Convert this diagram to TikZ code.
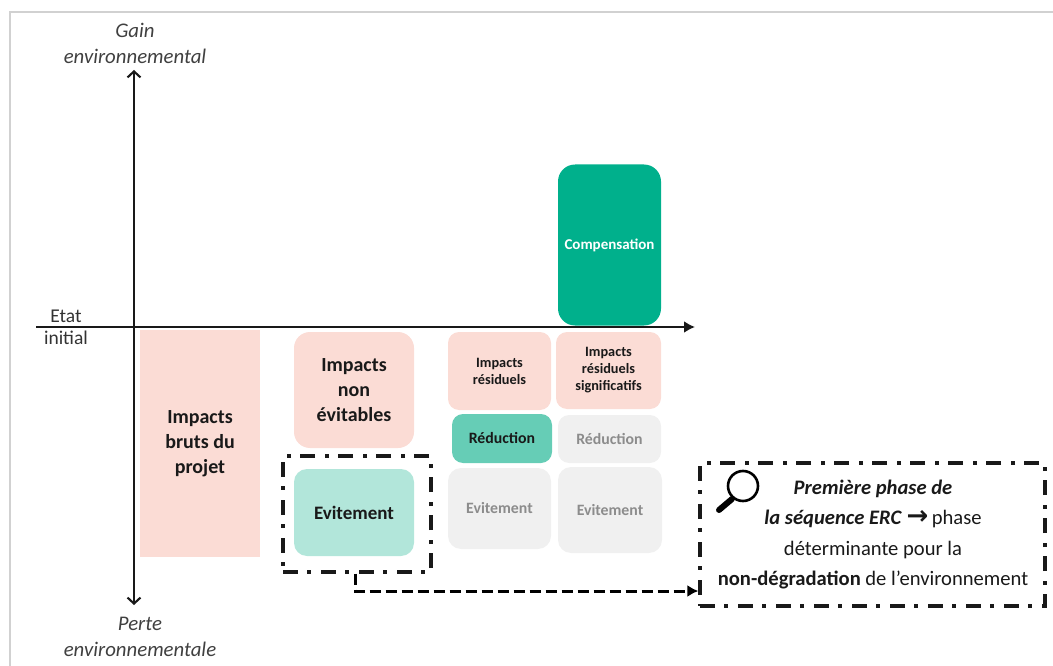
\documentclass[tikz,border=0pt]{standalone}
\usepackage{fontspec}
\setmainfont{Carlito}
\newfontfamily\arrowfont{DejaVu Sans}
\usetikzlibrary{positioning,arrows.meta}

\begin{document}
\begin{tikzpicture}[x=1pt, y=-1pt]
	\tikzstyle{main}=[rectangle, rounded corners=11pt, inner sep=0pt, align=center, text=black!90, font=\bfseries\fontsize{14.3}{17}\selectfont]
\tikzstyle{grey}=[main, fill=black!6, text=black!45]
\tikzstyle{big}=[font=\bfseries\fontsize{20}{25}\selectfont]
\tikzstyle{mid}=[font=\bfseries\fontsize{15.8}{20}\selectfont]
\tikzstyle{connect}=[-{Latex[length=11pt,width=12pt]}, line width=3pt]
\tikzstyle{axis}=[line width=2.1pt, black!90]
\tikzstyle{dashbox}=[draw=black!90, line width=3.2pt, dash pattern=on 15pt off 9pt on 4pt off 10pt]
\tikzstyle{legend}=[align=center, text=black!75, font=\itshape\fontsize{20.8}{26}\selectfont]
\tikzstyle{hand}=[text=black!80, font=\fontsize{19.5}{20}\selectfont]
  \definecolor{rosebg}{HTML}{FBDCD5}
  \definecolor{tealdark}{HTML}{00B08C}
  \definecolor{tealmid}{HTML}{66CDB6}
  \definecolor{teallight}{HTML}{B2E6DA}
  \useasboundingbox (0,0) rectangle (1053,666);
  \draw[black!18, line width=1.2pt] (10,666) -- (10,12) -- (1053,12);

  % axes
  \coordinate (west) at (36,327);
  \coordinate (east) at (695,327);
  \coordinate (top) at (134,70);
  \coordinate (bottom) at (134,605);
  \draw[axis, -{Latex[length=11pt,width=12pt]}] (west) -- (east);
  \draw[axis, {Straight Barb[length=6pt,width=13pt]}-{Straight Barb[length=6pt,width=13pt]}] (bottom) -- (top);
  \node[legend] (gain) at (135,43) {Gain\\environnemental};
  \node[legend] (perte) at (140,637) {Perte\\environnementale};
  \node[hand] (etat) at (66,316) {Etat};
  \node[hand] (initial) at (66,338) {initial};

  % first and second columns
  \node[main, big, rounded corners=0pt, fill=rosebg, minimum width=120pt, minimum height=227pt] (bruts) at (200,443.5) {Impacts\\bruts du\\projet};
  \node[main, big, fill=rosebg, rounded corners=16pt, minimum width=120pt, minimum height=116pt] (nonevit) at (354,390) {Impacts\\non\\évitables};
  \node[main, fill=teallight, rounded corners=13pt, minimum width=120pt, minimum height=87pt, font=\bfseries\fontsize{19}{20}\selectfont] (evit) at (354,512.5) {Evitement};
  \node[dashbox, minimum width=148pt, minimum height=116pt] (zoombox) at (357,514) {};

  % third and fourth columns
  \node[main, fill=rosebg, minimum width=103pt, minimum height=78pt] (residuels) at (499.5,371) {Impacts\\résiduels};
  \node[main, fill=rosebg, minimum width=105pt, minimum height=77pt] (signif) at (608.5,370.5) {Impacts\\résiduels\\significatifs};
  \node[main, mid, fill=tealmid, minimum width=100pt, minimum height=49pt] (reduc) at (502,438.5) {Réduction};
  \node[grey, mid, minimum width=103pt, minimum height=48pt] (reducgrey) at (609.5,439) {Réduction};
  \node[grey, mid, rounded corners=13pt, minimum width=103pt, minimum height=81pt] (evita) at (499.5,508.5) {Evitement};
  \node[grey, mid, rounded corners=13pt, minimum width=104pt, minimum height=86pt] (evitb) at (610,510) {Evitement};
  \node[main, fill=tealdark, text=white, rounded corners=17pt, minimum width=103pt, minimum height=161pt, font=\bfseries\fontsize{15}{20}\selectfont] (comp) at (609.5,245) {Compensation};

  % zoom on the first phase
  \node[dashbox, minimum width=345pt, minimum height=143pt] (phase) at (872.5,534.5) {};
  \node[align=center, text=black!90, font=\fontsize{20.6}{30.5}\selectfont] (phasetext) at (873,534.5) {\textbf{\textit{Première phase de}}\\\textbf{\textit{la séquence ERC}} {\arrowfont\bfseries\fontsize{26}{26}\selectfont →}\,phase\\déterminante pour la\\\textbf{non-dégradation} de l’environnement};
  \draw[black, line width=2.6pt] (743,486) circle (15pt);
  \draw[black, line width=6pt, line cap=round] (732,499) -- (719,510);
  \coordinate (elbow) at (355,591);
  \draw[connect, dash pattern=on 11pt off 5pt] (zoombox.south -| elbow) -- (elbow) -- (phase.west |- elbow);
\end{tikzpicture}
\end{document}
